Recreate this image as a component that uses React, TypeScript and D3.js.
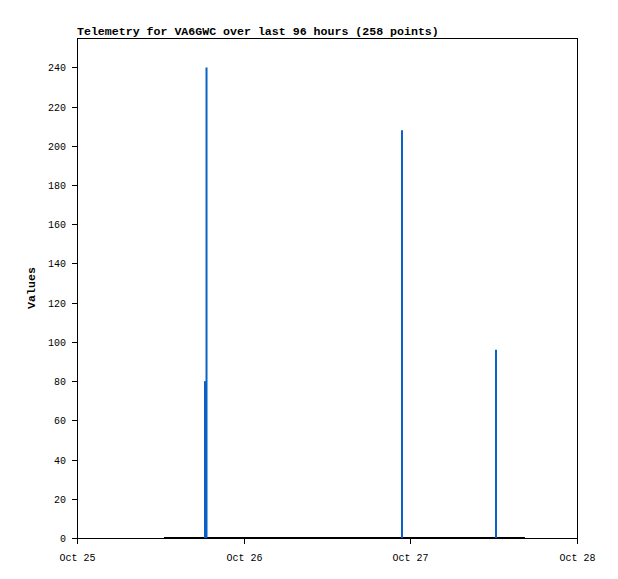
import * as React from "react";
import * as d3 from "d3";

// spike series (blue)
const spikeTimes = ["2023-10-25T18:26", "2023-10-25T18:39", "2023-10-26T22:48", "2023-10-27T12:20"];
const spikeValues = [80, 240, 208, 96];

// flat series near zero (black)
const baseTimes = ["2023-10-25T12:31", "2023-10-26T12:00", "2023-10-27T16:30"];
const baseValues = [0, 0, 0];

const xTickLabels = ["Oct 25", "Oct 26", "Oct 27", "Oct 28"];
const yTicks = [0, 20, 40, 60, 80, 100, 120, 140, 160, 180, 200, 220, 240];

const title = "Telemetry for VA6GWC over last 96 hours (258 points)";

const App = () => {
  const width = 618;
  const height = 579;
  const m = { top: 38, right: 41, bottom: 41, left: 77 };
  const w = width - m.left - m.right;
  const h = height - m.top - m.bottom;

  const parse = (s: string) => new Date(s);
  const x = d3
    .scaleTime()
    .domain([parse("2023-10-25T00:00"), parse("2023-10-28T00:00")])
    .range([0, w]);
  const y = d3.scaleLinear().domain([0, 255]).range([h, 0]);

  const xTicks = x.ticks(d3.timeDay.every(1)!);

  const baseLine = d3
    .line<number>()
    .x((d, i) => x(parse(baseTimes[i])))
    .y((d) => y(d));

  const font = "'Liberation Mono', 'DejaVu Sans Mono', monospace";

  return (
    <svg
      width={width}
      height={height}
      style={{ position: "absolute", left: 0, top: 0, background: "#fff" }}
    >
      <text x={m.left} y={35} fontFamily={font} fontWeight="bold" fontSize={11.6} fill="#000">
        {title}
      </text>
      <text
        transform={`translate(35,${m.top + h / 2}) rotate(-90)`}
        textAnchor="middle"
        fontFamily={font}
        fontWeight="bold"
        fontSize={11.6}
      >
        Values
      </text>
      <g transform={`translate(${m.left},${m.top})`}>
        <path d={baseLine(baseValues) || ""} stroke="#000" strokeWidth={2} fill="none" />
        {spikeValues.map((v, i) => (
          <line
            key={"spike" + i}
            x1={x(parse(spikeTimes[i]))}
            x2={x(parse(spikeTimes[i]))}
            y1={y(0)}
            y2={y(v)}
            stroke="#0a62c6"
            strokeWidth={2}
          />
        ))}
        <rect x={0.5} y={0.5} width={w} height={h} fill="none" stroke="#000" strokeWidth={1} />
        {yTicks.map((t) => (
          <g key={"y" + t} transform={`translate(0,${Math.round(y(t)) + 0.5})`}>
            <line x1={-5} x2={0} stroke="#000" />
            <text x={-11} dy="0.35em" textAnchor="end" fontFamily={font} fontSize={10} fill="#000">
              {t}
            </text>
          </g>
        ))}
        {xTicks.map((t, i) => (
          <g key={"x" + i} transform={`translate(${Math.round(x(t)) + 0.5},${h})`}>
            <line y1={0} y2={6} stroke="#000" />
            <text y={23} textAnchor="middle" fontFamily={font} fontSize={10} fill="#000">
              {xTickLabels[i]}
            </text>
          </g>
        ))}
      </g>
    </svg>
  );
};

export default App;
